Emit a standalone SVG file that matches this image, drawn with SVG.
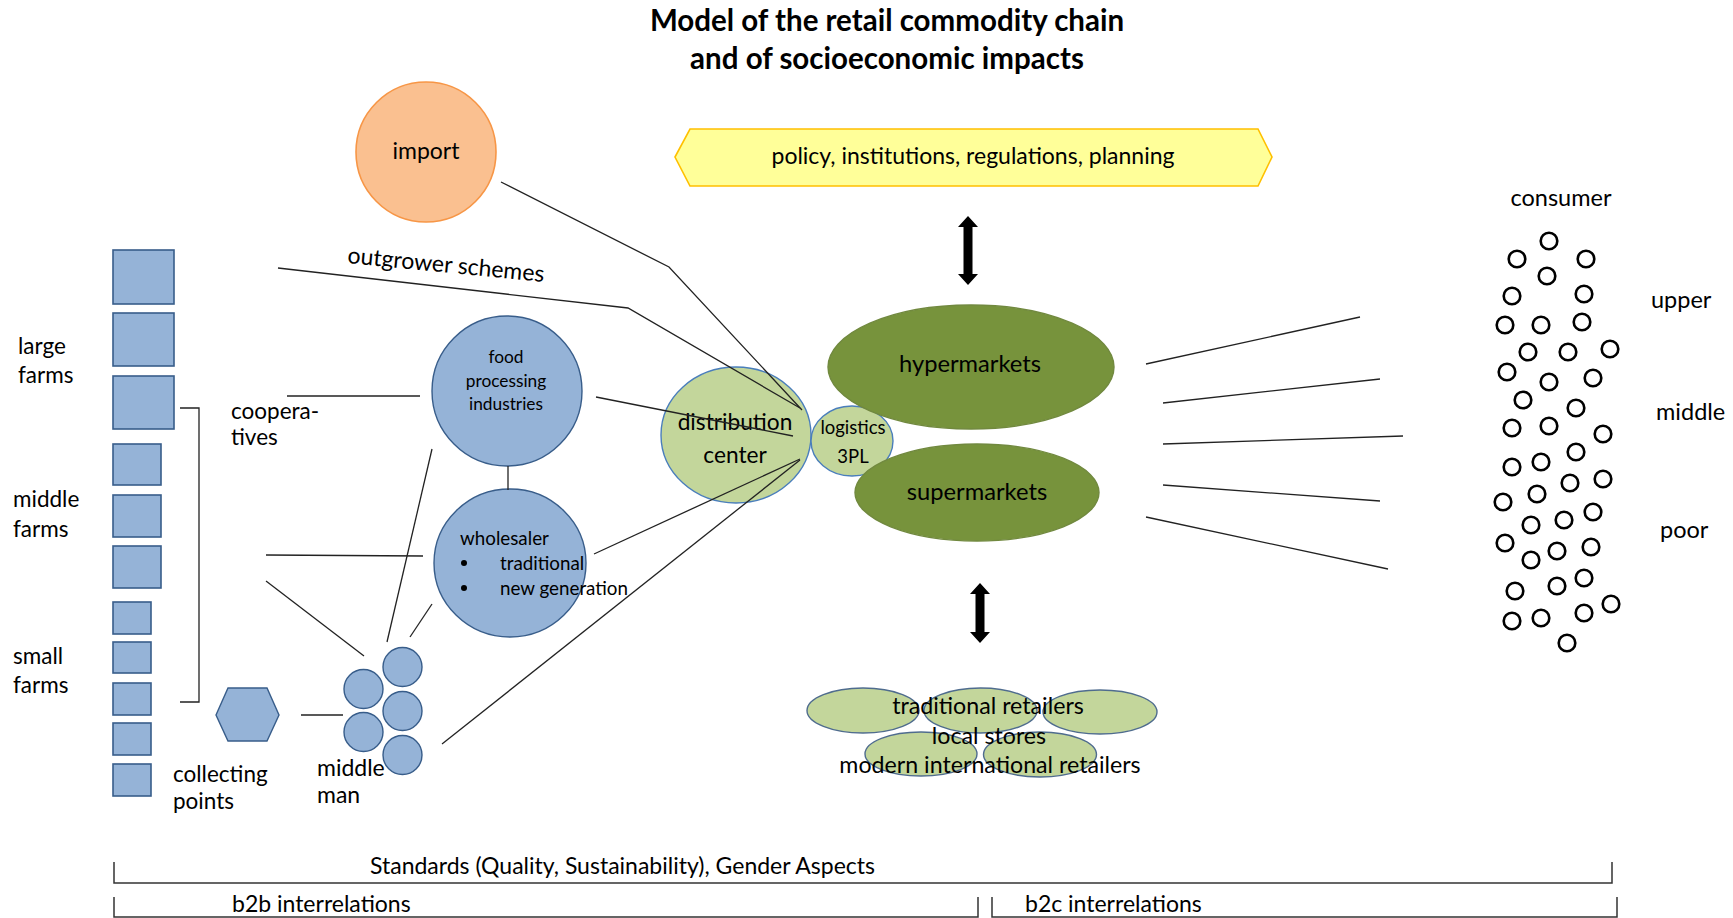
<svg xmlns="http://www.w3.org/2000/svg" width="1733" height="918" viewBox="0 0 1733 918">
<style>
text{font-family:Lato,"Liberation Sans",sans-serif;fill:#000}
.t{font-size:23px}
.tl{font-size:22.5px}
.tm{font-size:23.5px}
.tb{font-size:23px}
.c{text-anchor:middle}
.sq{fill:#95B3D7;stroke:#385D8A;stroke-width:1.6}
.bl{fill:#95B3D7;stroke:#385D8A;stroke-width:1.4}
.lg{fill:#C3D69B;stroke:#4A7EBB;stroke-width:1.4}
.lg2{fill:#C3D69B;stroke:#4F6C8E;stroke-width:1.4}
.dg{fill:#77933C;stroke:#71893F;stroke-width:1.4}
.ln{fill:none;stroke:#222;stroke-width:1.3}
.br{fill:none;stroke:#333;stroke-width:1.5}
.cons{fill:none;stroke:#000;stroke-width:2.6}
.arr{fill:#000}
</style>

<g id="title">
<text x="887" y="31" class="c" style="font-size:29.5px;font-weight:bold">Model of the retail commodity chain</text>
<text x="887" y="69" class="c" style="font-size:29.5px;font-weight:bold">and of socioeconomic impacts</text>
</g>

<g id="import">
<circle cx="426" cy="152" r="70" fill="#FAC090" stroke="#F79646" stroke-width="1.6"/>
<text x="426" y="159" class="t c">import</text>
</g>

<g id="policy">
<polygon points="675,157 690,129 1258,129 1272,157 1258,186 690,186" fill="#FFFF99" stroke="#FFC000" stroke-width="1.6"/>
<text x="973" y="164" class="t c">policy, institutions, regulations, planning</text>
</g>

<g id="outgrower">
<text x="347" y="263" class="t" transform="rotate(5.5 347 263)">outgrower schemes</text>
</g>

<g id="large-farms">
<rect class="sq" x="113" y="250" width="61" height="54"/>
<rect class="sq" x="113" y="313" width="61" height="53"/>
<rect class="sq" x="113" y="376" width="61" height="53"/>
<text x="18" y="354" class="tl">large</text>
<text x="18" y="383" class="tl">farms</text>
</g>

<g id="middle-farms">
<rect class="sq" x="113" y="444" width="48" height="41"/>
<rect class="sq" x="113" y="495" width="48" height="42"/>
<rect class="sq" x="113" y="546" width="48" height="42"/>
<text x="13" y="507" class="tl">middle</text>
<text x="13" y="537" class="tl">farms</text>
</g>

<g id="small-farms">
<rect class="sq" x="113" y="602" width="38" height="32"/>
<rect class="sq" x="113" y="642" width="38" height="31"/>
<rect class="sq" x="113" y="683" width="38" height="32"/>
<rect class="sq" x="113" y="723" width="38" height="32"/>
<rect class="sq" x="113" y="764" width="38" height="32"/>
<text x="13" y="664" class="tl">small</text>
<text x="13" y="693" class="tl">farms</text>
</g>

<g id="cooperatives">
<text x="231" y="419" class="tl">coopera-</text>
<text x="231" y="445" class="tl">tives</text>
</g>

<g id="collecting-points">
<polygon class="bl" points="216,715 228,688 267,688 279,715 267,741 228,741"/>
<text x="173" y="782" class="tl">collecting</text>
<text x="173" y="809" class="tl">points</text>
</g>

<g id="middle-man">
<circle class="bl" cx="402.5" cy="667" r="19.5"/>
<circle class="bl" cx="363.5" cy="689" r="19.5"/>
<circle class="bl" cx="402.5" cy="711" r="19.5"/>
<circle class="bl" cx="363.5" cy="732" r="19.5"/>
<circle class="bl" cx="402.5" cy="755" r="19.5"/>
<text x="317" y="776" class="t">middle</text>
<text x="317" y="803" class="t">man</text>
</g>

<g id="food-processing">
<circle class="bl" cx="507" cy="391" r="75"/>
<text x="506" y="363" class="c" style="font-size:17.3px">food</text>
<text x="506" y="387" class="c" style="font-size:17.3px">processing</text>
<text x="506" y="410" class="c" style="font-size:17.3px">industries</text>
</g>

<g id="wholesaler">
<ellipse class="bl" cx="510" cy="563" rx="76" ry="74"/>
<text x="460" y="545" style="font-size:18.8px">wholesaler</text>
<circle cx="464" cy="563" r="3"/>
<circle cx="464" cy="588" r="3"/>
<text x="500" y="570" style="font-size:18.8px">traditional</text>
<text x="500" y="595" style="font-size:18.8px">new generation</text>
</g>

<g id="distribution-center">
<ellipse class="lg" cx="736" cy="435" rx="75" ry="68"/>
<text x="735" y="430" class="c" style="font-size:22.7px">distribution</text>
<text x="735" y="463" class="c" style="font-size:22.7px">center</text>
</g>

<g id="logistics">
<ellipse class="lg" cx="852" cy="441" rx="41" ry="35"/>
<text x="853" y="434" class="c" style="font-size:18.5px">logistics</text>
<text x="853" y="463" class="c" style="font-size:18.5px">3PL</text>
</g>

<g id="hypermarkets">
<ellipse class="dg" cx="971" cy="367" rx="143" ry="62"/>
<text x="970" y="372" class="c" style="font-size:23.7px">hypermarkets</text>
</g>

<g id="supermarkets">
<ellipse class="dg" cx="977" cy="492.5" rx="122" ry="48.5"/>
<text x="977" y="500" class="c" style="font-size:23.7px">supermarkets</text>
</g>

<g id="retailers">
<ellipse class="lg2" cx="863" cy="710.5" rx="56" ry="22.5"/>
<ellipse class="lg2" cx="980.5" cy="710.5" rx="56.5" ry="22.5"/>
<ellipse class="lg2" cx="1100" cy="712" rx="57" ry="22"/>
<ellipse class="lg2" cx="921" cy="754" rx="56" ry="22"/>
<ellipse class="lg2" cx="1040" cy="754.5" rx="56.5" ry="22.5"/>
<text x="988" y="714" class="c" style="font-size:23.2px">traditional retailers</text>
<text x="989" y="744" class="c" style="font-size:23.2px">local stores</text>
<text x="990" y="773" class="c" style="font-size:23.2px">modern international retailers</text>
</g>

<g id="consumer">
<text x="1561" y="206" class="tm c">consumer</text>
<g class="cons">
<circle cx="1549" cy="241" r="8.3"/><circle cx="1517" cy="259" r="8.3"/><circle cx="1586" cy="259" r="8.3"/>
<circle cx="1547" cy="276" r="8.3"/><circle cx="1512" cy="296" r="8.3"/><circle cx="1584" cy="294" r="8.3"/>
<circle cx="1505" cy="325" r="8.3"/><circle cx="1541" cy="325" r="8.3"/><circle cx="1582" cy="322" r="8.3"/>
<circle cx="1528" cy="352" r="8.3"/><circle cx="1568" cy="352" r="8.3"/><circle cx="1610" cy="349" r="8.3"/>
<circle cx="1507" cy="372" r="8.3"/><circle cx="1549" cy="382" r="8.3"/><circle cx="1593" cy="378" r="8.3"/>
<circle cx="1523" cy="400" r="8.3"/><circle cx="1576" cy="408" r="8.3"/><circle cx="1512" cy="428" r="8.3"/>
<circle cx="1549" cy="426" r="8.3"/><circle cx="1603" cy="434" r="8.3"/><circle cx="1576" cy="452" r="8.3"/>
<circle cx="1512" cy="467" r="8.3"/><circle cx="1541" cy="462" r="8.3"/><circle cx="1603" cy="479" r="8.3"/>
<circle cx="1570" cy="483" r="8.3"/><circle cx="1537" cy="494" r="8.3"/><circle cx="1503" cy="502" r="8.3"/>
<circle cx="1593" cy="512" r="8.3"/><circle cx="1564" cy="520" r="8.3"/><circle cx="1531" cy="525" r="8.3"/>
<circle cx="1505" cy="543" r="8.3"/><circle cx="1591" cy="547" r="8.3"/><circle cx="1557" cy="551" r="8.3"/>
<circle cx="1531" cy="560" r="8.3"/><circle cx="1584" cy="578" r="8.3"/><circle cx="1557" cy="586" r="8.3"/>
<circle cx="1515" cy="591" r="8.3"/><circle cx="1611" cy="604" r="8.3"/><circle cx="1584" cy="613" r="8.3"/>
<circle cx="1541" cy="618" r="8.3"/><circle cx="1512" cy="621" r="8.3"/><circle cx="1567" cy="643" r="8.3"/>
</g>
<text x="1651" y="308" class="tm">upper</text>
<text x="1656" y="420" class="tm">middle</text>
<text x="1660" y="538" class="tm">poor</text>
</g>

<g id="standards">
<polyline class="br" points="114,862 114,883 1612,883 1612,862"/>
<text x="370" y="874" class="tb">Standards (Quality, Sustainability), Gender Aspects</text>
</g>
<g id="b2b">
<polyline class="br" points="114,897 114,917 978,917 978,897"/>
<text x="232" y="912" class="tb">b2b interrelations</text>
</g>
<g id="b2c">
<polyline class="br" points="992,897 992,917 1617,917 1617,897"/>
<text x="1025" y="912" class="tb">b2c interrelations</text>
</g>

<g id="connectors">
<polyline class="ln" points="501,182 669,267 802,410"/>
<polyline class="ln" points="278,268 628,308 800,408"/>
<line class="ln" x1="596" y1="397" x2="793" y2="436"/>
<line class="ln" x1="287" y1="396" x2="420" y2="396"/>
<line class="ln" x1="508" y1="466" x2="508" y2="490"/>
<line class="ln" x1="266" y1="555" x2="423" y2="556"/>
<line class="ln" x1="266" y1="581" x2="364" y2="656"/>
<line class="ln" x1="387" y1="642" x2="432" y2="449"/>
<line class="ln" x1="410" y1="637" x2="432" y2="604"/>
<line class="ln" x1="594" y1="554" x2="800" y2="459"/>
<line class="ln" x1="442" y1="744" x2="800" y2="460"/>
<line class="ln" x1="301" y1="715" x2="343" y2="715"/>
<polyline class="ln" points="180,408 199,408 199,702 180,702"/>
<line class="ln" x1="1146" y1="364" x2="1360" y2="317"/>
<line class="ln" x1="1163" y1="403" x2="1380" y2="379"/>
<line class="ln" x1="1163" y1="444" x2="1403" y2="436"/>
<line class="ln" x1="1163" y1="485" x2="1380" y2="501"/>
<line class="ln" x1="1146" y1="517" x2="1388" y2="569"/>
<polygon class="arr" points="968,216 978,227 972.5,227 972.5,274 978,274 968,285 958,274 963.5,274 963.5,227 958,227"/>
<polygon class="arr" points="980,583 990,594 984.5,594 984.5,632 990,632 980,643 970,632 975.5,632 975.5,594 970,594"/>
</g>
</svg>
